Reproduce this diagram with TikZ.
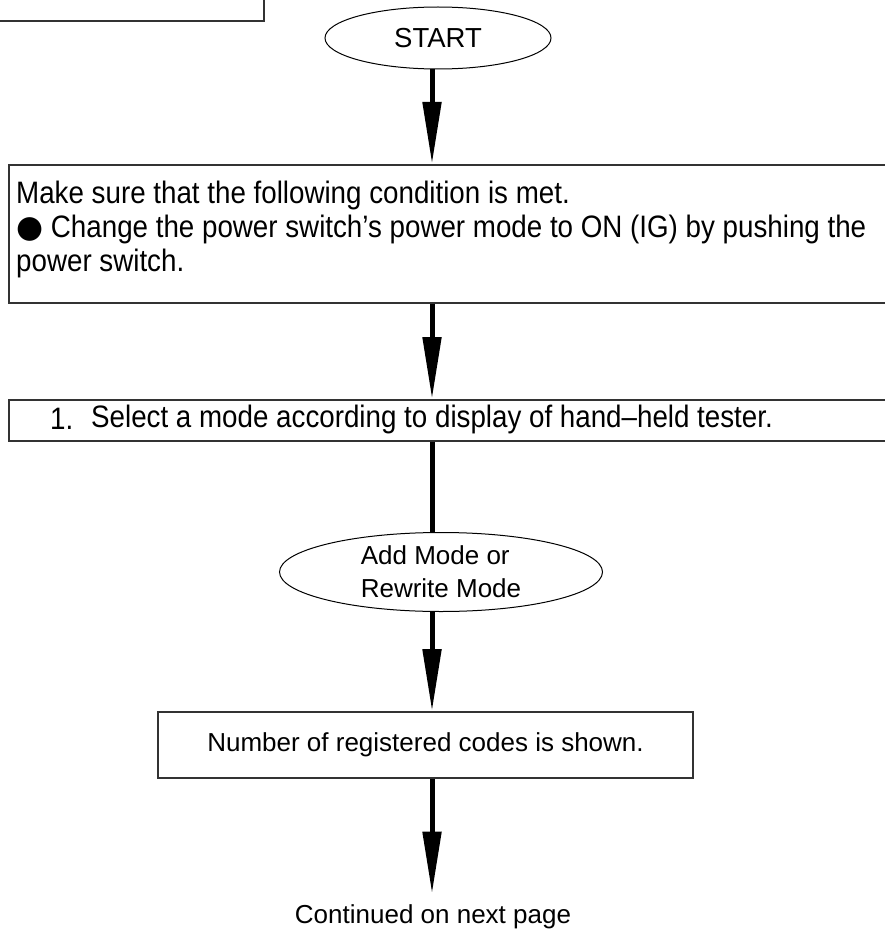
\documentclass[tikz,border=0pt]{standalone}
\usepackage{fontspec}
\setmainfont{Liberation Sans}
\newfontfamily\narrowfont[FakeStretch=0.895]{Liberation Sans}
\newfontfamily\dejavu{DejaVu Sans}
\usetikzlibrary{shapes.geometric,arrows.meta}
\begin{document}
\begin{tikzpicture}[x=1pt,y=-1pt,
  boxline/.style={draw=black!80, line width=1.6pt},
  terminal/.style={ellipse, draw=black, line width=1pt, inner sep=0pt},
  arr/.style={line width=5pt, -{Triangle[length=62pt,width=18pt]}},
  plainline/.style={line width=5pt},
  bodytext/.style={font=\narrowfont\fontsize{31}{34}\selectfont},
  normtext/.style={font=\fontsize{26}{33}\selectfont}]
\useasboundingbox (0,0) rectangle (884,936);
\coordinate (col) at (432,0);
% top-left box (cut off)
\node (tl) [boxline, anchor=south east, minimum width=290pt, minimum height=60pt, inner sep=0pt] at (265,22) {};
% START
\node (start) [terminal, font=\fontsize{27.5}{33}\selectfont, minimum width=226pt, minimum height=62pt] at (438,38) {START};
% box 1
\node (box1) [boxline, anchor=north west, minimum width=900pt, minimum height=138pt, inner sep=0pt] at (8,164) {};
\node (t1) [bodytext, anchor=west, align=left, inner sep=0pt] at (16,229)
  {Make sure that the following condition is met.\\
   {\dejavu ●} Change the power switch’s power mode to ON (IG) by pushing the\\
   power switch.};
% box 2
\node (box2) [boxline, anchor=north west, minimum width=900pt, minimum height=41pt, inner sep=0pt] at (8,399) {};
\node (t2a) [bodytext, anchor=west, inner sep=0pt] at (50,419) {1.};
\node (t2b) [bodytext, anchor=west, inner sep=0pt] at (91,419) {Select a mode according to display of hand–held tester.};
% mode ellipse
\node (mode) [terminal, normtext, align=left, minimum width=323pt, minimum height=79pt] at (441,572)
  {Add Mode or\\Rewrite Mode};
% box 3
\node (box3) [boxline, normtext, minimum width=535pt, minimum height=66pt, inner sep=0pt] at (425.5,745)
  {Number of registered codes is shown.};
% continued
\node (cont) [normtext, inner sep=0pt] at (433,917) {Continued on next page};
% connectors
\draw[arr] (start.south -| col) -- (box1.north -| col);
\draw[arr] (box1.south -| col) -- (box2.north -| col);
\draw[plainline] (box2.south -| col) -- (mode.north -| col);
\draw[arr] (mode.south -| col) -- (box3.north -| col);
\draw[arr, shorten >=11pt] (box3.south -| col) -- (cont.north -| col);
\end{tikzpicture}
\end{document}
